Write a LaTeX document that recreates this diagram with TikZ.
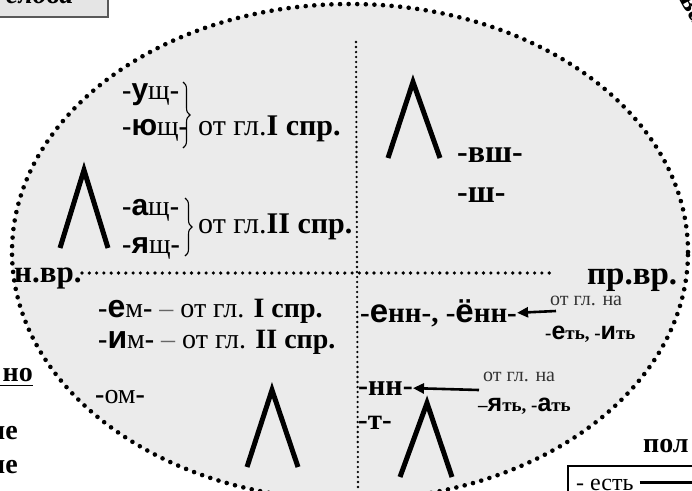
\documentclass[tikz,border=0pt]{standalone}
\usepackage{fontspec}
\setmainfont{Liberation Serif}
\newfontfamily\sansb{Liberation Sans}
\usetikzlibrary{decorations.pathreplacing,arrows.meta}
\newcommand\fs[1]{\fontsize{#1}{#1}\selectfont}
\newcommand\vw[2][28]{{\sansb\bfseries\fs{#1}#2}}
\begin{document}
\begin{tikzpicture}[x=1pt,y=-1pt,
  txt/.style={inner sep=0pt, anchor=base west, font=\fs{28}},
  small/.style={inner sep=0pt, anchor=base west, font=\fs{20}},
  lam/.style={line width=5pt, line join=miter},
  arr/.style={line width=2.6pt, -{Triangle[length=11pt,width=10pt]}},
  brc/.style={decorate, decoration={brace, amplitude=7pt}, line width=1.1pt},
  dots/.style={line cap=round, dash pattern=on 0pt off #1}]
\useasboundingbox (0,0) rectangle (692,490);
% ellipse
\fill[black!8] (350,252) ellipse [x radius=338pt, y radius=248pt];
\draw[dots=8.6pt, line width=4.6pt] (350,252) ellipse [x radius=338pt, y radius=248pt];
% dividers
\coordinate (vtop) at (356,42);
\coordinate (vbot) at (358,490);
\draw[dots=5pt, line width=2.6pt] (vtop) -- (vbot);
% top-left box
\draw[fill=black!10, draw=black!65, line width=1.6pt] (-5,-30) rectangle (108,17);
\node[anchor=base west, inner sep=0pt, font=\fs{28}\bfseries\itshape] (slova) at (6,3) {слова};
% top-right fragment
\node[rotate=-62, font=\fs{30}\bfseries, inner sep=0pt] (frag) at (693,10) {ва};
% left part
\node[inner sep=0pt, anchor=base west, font=\fs{31}\bfseries] (nvr) at (14,282) {н.вр.};
\node[inner sep=0pt, anchor=base west, font=\fs{33}\bfseries] (prvr) at (587,284) {пр.вр.};
\coordinate (hl) at (82,273);
\coordinate (hr) at (553,273);
\draw[dots=7.3pt, line width=3.6pt] (hl) -- (hr);
% upper-left
\node[txt] (ush) at (122,99) {\textbf{-}\vw[30]{у}щ\textbf{-}};
\node[txt] (yush) at (122,135) {\textbf{-}\vw[30]{ю}щ\textbf{-}};
\draw[brc] (183,82) -- (183,148);
\node[inner sep=0pt, anchor=base west, font=\fs{30}] (g1) at (198,135) {от гл.\textbf{I спр.}};
\node[txt] (ash) at (122,215) {\textbf{-}\vw[30]{а}щ\textbf{-}};
\node[txt] (yash) at (122,253) {\textbf{-}\vw[30]{я}щ\textbf{-}};
\draw[brc] (185,198) -- (185,256);
\node[inner sep=0pt, anchor=base west, font=\fs{30}] (g2) at (198,233) {от гл.\textbf{II спр.}};
\draw[lam] (60,248) -- (84,170) -- (108,248);
% lower-left
\node[txt, font=\fs{28}] (em) at (98,317) {\textbf{-}\vw[32]{е}м\textbf{-} \textcolor{black!60}{–} от гл. \textbf{I спр.}};
\node[txt, font=\fs{28}] (im) at (98,348) {\textbf{-}\vw[32]{и}м\textbf{-} \textcolor{black!60}{–} от гл. \textbf{II спр.}};
\node[txt, font=\fs{28}] (om) at (95,403) {\textbf{-}ом\textbf{-}};
\draw[lam] (247,467) -- (272,390) -- (298,467);
% upper-right
\draw[lam] (388,158) -- (413,82) -- (440,158);
\node[inner sep=0pt, anchor=base west, font=\fs{32}\bfseries] (vsh) at (457,162) {-вш-};
\node[inner sep=0pt, anchor=base west, font=\fs{32}\bfseries] (sh) at (457,202) {-ш-};
% lower-right
\node[small, text=black!80] (ot1) at (550,305) {от гл. на};
\node[txt, font=\fs{29}\bfseries] (enn) at (360,322) {-\vw[33]{е}нн-, -\vw[33]{ё}нн-};
\coordinate (a1) at (556,311);
\draw[arr] (a1) -- (enn.east);
\node[inner sep=0pt, anchor=base west, font=\fs{19}\bfseries] (et) at (545,339) {-\vw[25]{е}ть, -\vw[25]{и}ть};
\node[small, text=black!80] (ot2) at (483,381) {от гл. на};
\node[txt, font=\fs{30}\bfseries] (nn) at (358,395) {-нн-};
\coordinate (a2) at (479,390);
\draw[arr] (a2) -- (nn.east);
\node[inner sep=0pt, anchor=base west, font=\fs{19}\bfseries] (yat) at (478,411) {–\vw[25]{я}ть, -\vw[25]{а}ть};
\node[txt, font=\fs{29}\bfseries] (t) at (358,429) {-т-};
\draw[lam] (400,477) -- (427,403) -- (452,477);
% left margin fragments
\node[inner sep=0pt, anchor=base east, font=\fs{28}\bfseries] (no) at (33,381) {но};
\draw[line width=1.6pt] (0,385.5) -- (no.south east |- 0,385.5);
\node[inner sep=0pt, anchor=base east, font=\fs{28}\bfseries] (ie1) at (18,439) {ие};
\node[inner sep=0pt, anchor=base east, font=\fs{28}\bfseries] (ie2) at (18,473) {ие};
% bottom-right fragments
\node[inner sep=0pt, anchor=base west, font=\fs{28}\bfseries] (pol) at (643,452) {пол};
\draw[line width=1.4pt] (700,466) -- (568,466) -- (568,495);
\node[inner sep=0pt, anchor=base west, font=\fs{24}] (est) at (576,490) {- есть};
\coordinate (le) at (700,482);
\draw[line width=3pt] (est.east |- le) ++(6,0) -- (le);
\end{tikzpicture}
\end{document}
